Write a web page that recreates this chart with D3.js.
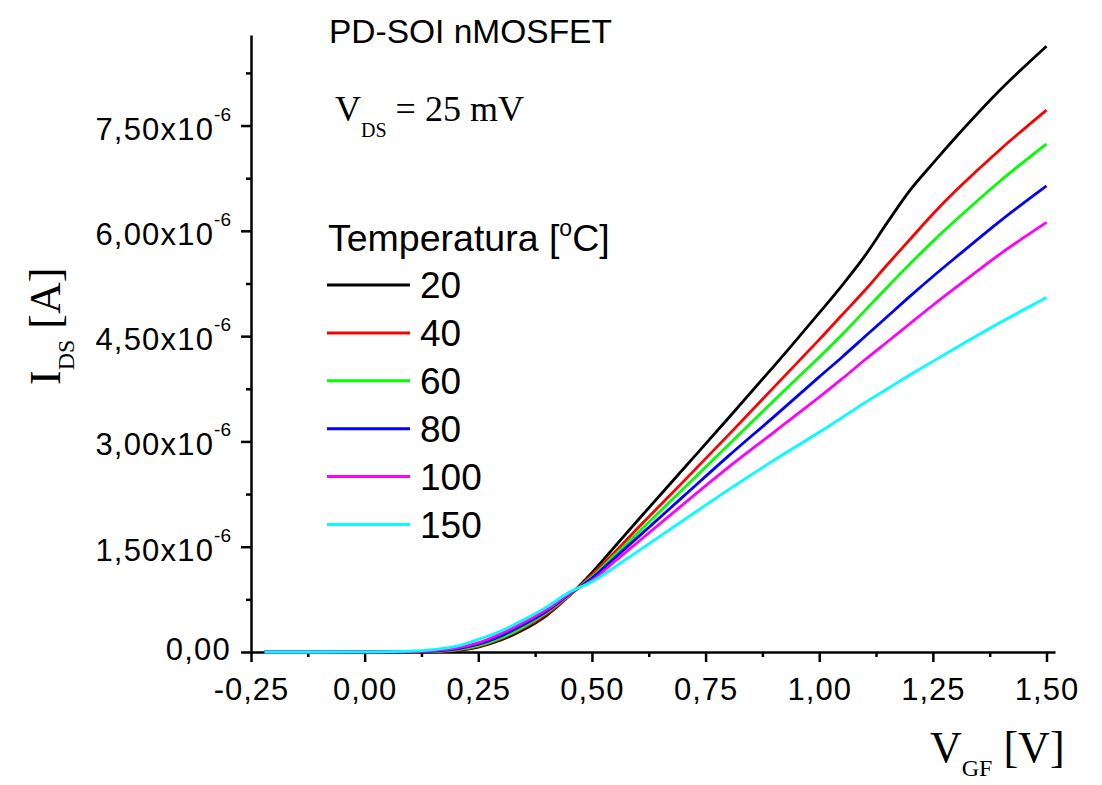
<!DOCTYPE html>
<html>
<head>
<meta charset="utf-8">
<script src="https://cdn.jsdelivr.net/npm/d3@7"></script>
<style>
    body { margin: 0; background: #fff; }
    svg text { fill: #000; }
    .sans { font-family: "Liberation Sans", Arial, sans-serif; }
    .serif { font-family: "Liberation Serif", "Times New Roman", serif; }
</style>
</head>
<body>
<script>
// gate voltage V_GF [V], shared by all curves
var vgf = [-0.22, -0.1, 0.0, 0.1, 0.15, 0.2, 0.25, 0.3, 0.35, 0.4, 0.45, 0.5, 0.55, 0.6,
           0.7, 0.8, 0.9, 1.0, 1.05, 1.1, 1.15, 1.2, 1.25, 1.3, 1.4, 1.5];

// drain current I_DS, in units of 1e-6 A, one array per temperature
var ids20  = [0, 0, 0, 0.001, 0.005, 0.02, 0.07, 0.17, 0.32, 0.52, 0.80, 1.13, 1.50, 1.87,
              2.60, 3.33, 4.07, 4.83, 5.22, 5.64, 6.12, 6.58, 6.96, 7.33, 8.02, 8.63];
var ids40  = [0, 0, 0, 0.001, 0.006, 0.025, 0.08, 0.19, 0.34, 0.54, 0.80, 1.10, 1.42, 1.76,
              2.42, 3.09, 3.77, 4.45, 4.80, 5.15, 5.52, 5.88, 6.24, 6.57, 7.17, 7.72];
var ids60  = [0, 0, 0, 0.002, 0.008, 0.03, 0.09, 0.20, 0.36, 0.56, 0.81, 1.07, 1.38, 1.69,
              2.32, 2.95, 3.58, 4.20, 4.52, 4.86, 5.20, 5.53, 5.85, 6.15, 6.72, 7.24];
var ids80  = [0, 0, 0, 0.003, 0.012, 0.04, 0.11, 0.23, 0.39, 0.58, 0.82, 1.05, 1.34, 1.63,
              2.21, 2.79, 3.35, 3.92, 4.20, 4.49, 4.78, 5.07, 5.35, 5.62, 6.15, 6.64];
var ids100 = [0, 0, 0.001, 0.004, 0.02, 0.055, 0.13, 0.26, 0.42, 0.60, 0.83, 1.02, 1.29, 1.56,
              2.10, 2.63, 3.13, 3.63, 3.89, 4.16, 4.42, 4.68, 4.94, 5.19, 5.68, 6.12];
var ids150 = [0, 0, 0.002, 0.012, 0.035, 0.08, 0.18, 0.30, 0.46, 0.64, 0.85, 1.00, 1.21, 1.43,
              1.87, 2.31, 2.73, 3.13, 3.34, 3.55, 3.75, 3.95, 4.14, 4.33, 4.70, 5.05];

var temps  = ["20", "40", "60", "80", "100", "150"];
var series = [ids20, ids40, ids60, ids80, ids100, ids150];
var colors = ["#000000", "#ff0000", "#00ff00", "#0000ff", "#ff00ff", "#00ffff"];

var xTicks = [-0.25, 0, 0.25, 0.5, 0.75, 1.0, 1.25, 1.5];
var xMinor = [-0.125, 0.125, 0.375, 0.625, 0.875, 1.125, 1.375];
var yTicks = [0, 1.5, 3.0, 4.5, 6.0, 7.5];
var yMinor = [0.75, 2.25, 3.75, 5.25, 6.75, 8.25];

var width = 1102, height = 785;

var svg = d3.select("body").append("svg")
    .attr("width", width)
    .attr("height", height);

var x = d3.scaleLinear().domain([-0.25, 1.5187]).range([251, 1055]);
var y = d3.scaleLinear().domain([0, 8.79]).range([652, 35]);

var commaFmt = function(d){
    return d3.format(".2f")(d).replace(".", ",").replace("\u2212", "-");
};

// x axis
var xAxis = svg.append("g")
    .attr("transform", "translate(0," + y(0) + ")")
    .call(d3.axisBottom(x).tickValues(xTicks).tickSize(10).tickSizeOuter(0).tickFormat(commaFmt));
xAxis.select(".domain").attr("stroke-width", 2.5);
xAxis.selectAll(".tick line").attr("stroke-width", 2.5);
xAxis.selectAll(".tick text")
    .attr("class", "sans")
    .attr("font-size", 31)
    .attr("letter-spacing", 1)
    .attr("fill", "#000")
    .attr("y", 26)
    .attr("dy", "0.71em");

svg.append("g")
    .attr("transform", "translate(0," + y(0) + ")")
    .call(d3.axisBottom(x).tickValues(xMinor).tickSize(5).tickSizeOuter(0).tickFormat(""))
    .call(function(g){ g.select(".domain").remove(); })
    .selectAll(".tick line").attr("stroke-width", 2.5);

// y axis
var yAxis = svg.append("g")
    .attr("transform", "translate(" + x(-0.25) + ",0)")
    .call(d3.axisLeft(y).tickValues(yTicks).tickSize(10).tickSizeOuter(0).tickFormat(""));
yAxis.select(".domain").attr("stroke-width", 2.5);
yAxis.selectAll(".tick line").attr("stroke-width", 2.5);

svg.append("g")
    .attr("transform", "translate(" + x(-0.25) + ",0)")
    .call(d3.axisLeft(y).tickValues(yMinor).tickSize(5).tickSizeOuter(0).tickFormat(""))
    .call(function(g){ g.select(".domain").remove(); })
    .selectAll(".tick line").attr("stroke-width", 2.5);

// y tick labels with x10^-6 superscript
yTicks.forEach(function(v){
    var t = svg.append("text")
        .attr("class", "sans")
        .attr("font-size", 31)
        .attr("letter-spacing", 1.2)
        .attr("text-anchor", "end")
        .attr("x", x(-0.25) - 20);
    if (v === 0){
        t.attr("y", y(v) + 8).text("0,00");
    } else {
        t.attr("y", y(v) + 14);
        t.append("tspan").text(commaFmt(v) + "x10");
        t.append("tspan").attr("font-size", 19).attr("letter-spacing", 0).attr("dy", -19).text("-6");
    }
});

// curves
var line = d3.line()
    .x(function(d){ return x(d[0]); })
    .y(function(d){ return y(d[1]); })
    .curve(d3.curveCatmullRom.alpha(0.5));

series.forEach(function(vals, i){
    svg.append("path")
        .datum(vgf.map(function(v, j){ return [v, vals[j]]; }))
        .attr("fill", "none")
        .attr("stroke", colors[i])
        .attr("stroke-width", 2.8)
        .attr("stroke-linejoin", "round")
        .attr("d", line);
});

// title
svg.append("text")
    .attr("class", "sans")
    .attr("font-size", 33.5)
    .attr("x", 329)
    .attr("y", 43)
    .text("PD-SOI nMOSFET");

// V_DS label
var vds = svg.append("text")
    .attr("class", "serif")
    .attr("font-size", 36)
    .attr("x", 335)
    .attr("y", 121);
vds.append("tspan").text("V");
vds.append("tspan").attr("font-size", 20).attr("dy", 16).text("DS");
vds.append("tspan").attr("dy", -16).text(" = 25 mV");

// legend
var legendTitle = svg.append("text")
    .attr("class", "sans")
    .attr("font-size", 37.5)
    .attr("x", 328)
    .attr("y", 251);
legendTitle.append("tspan").text("Temperatura [");
legendTitle.append("tspan").attr("font-size", 23).attr("dy", -15).text("o");
legendTitle.append("tspan").attr("dy", 15).text("C]");

temps.forEach(function(t, i){
    var ly = 285 + i * 47.9;
    svg.append("line")
        .attr("x1", 327).attr("x2", 410)
        .attr("y1", ly).attr("y2", ly)
        .attr("stroke", colors[i])
        .attr("stroke-width", 3);
    svg.append("text")
        .attr("class", "sans")
        .attr("font-size", 37)
        .attr("x", 420)
        .attr("y", ly + 13)
        .text(t);
});

// axis titles
var xt = svg.append("text")
    .attr("class", "serif")
    .attr("font-size", 44)
    .attr("x", 930)
    .attr("y", 762);
xt.append("tspan").text("V");
xt.append("tspan").attr("font-size", 24).attr("dy", 14).text("GF");
xt.append("tspan").attr("dy", -14).text(" [V]");

var yt = svg.append("text")
    .attr("class", "serif")
    .attr("font-size", 44)
    .attr("transform", "translate(60,385) rotate(-90)");
yt.append("tspan").text("I");
yt.append("tspan").attr("font-size", 24).attr("dy", 14).text("DS");
yt.append("tspan").attr("dy", -14).text(" [A]");
</script>
</body>
</html>
